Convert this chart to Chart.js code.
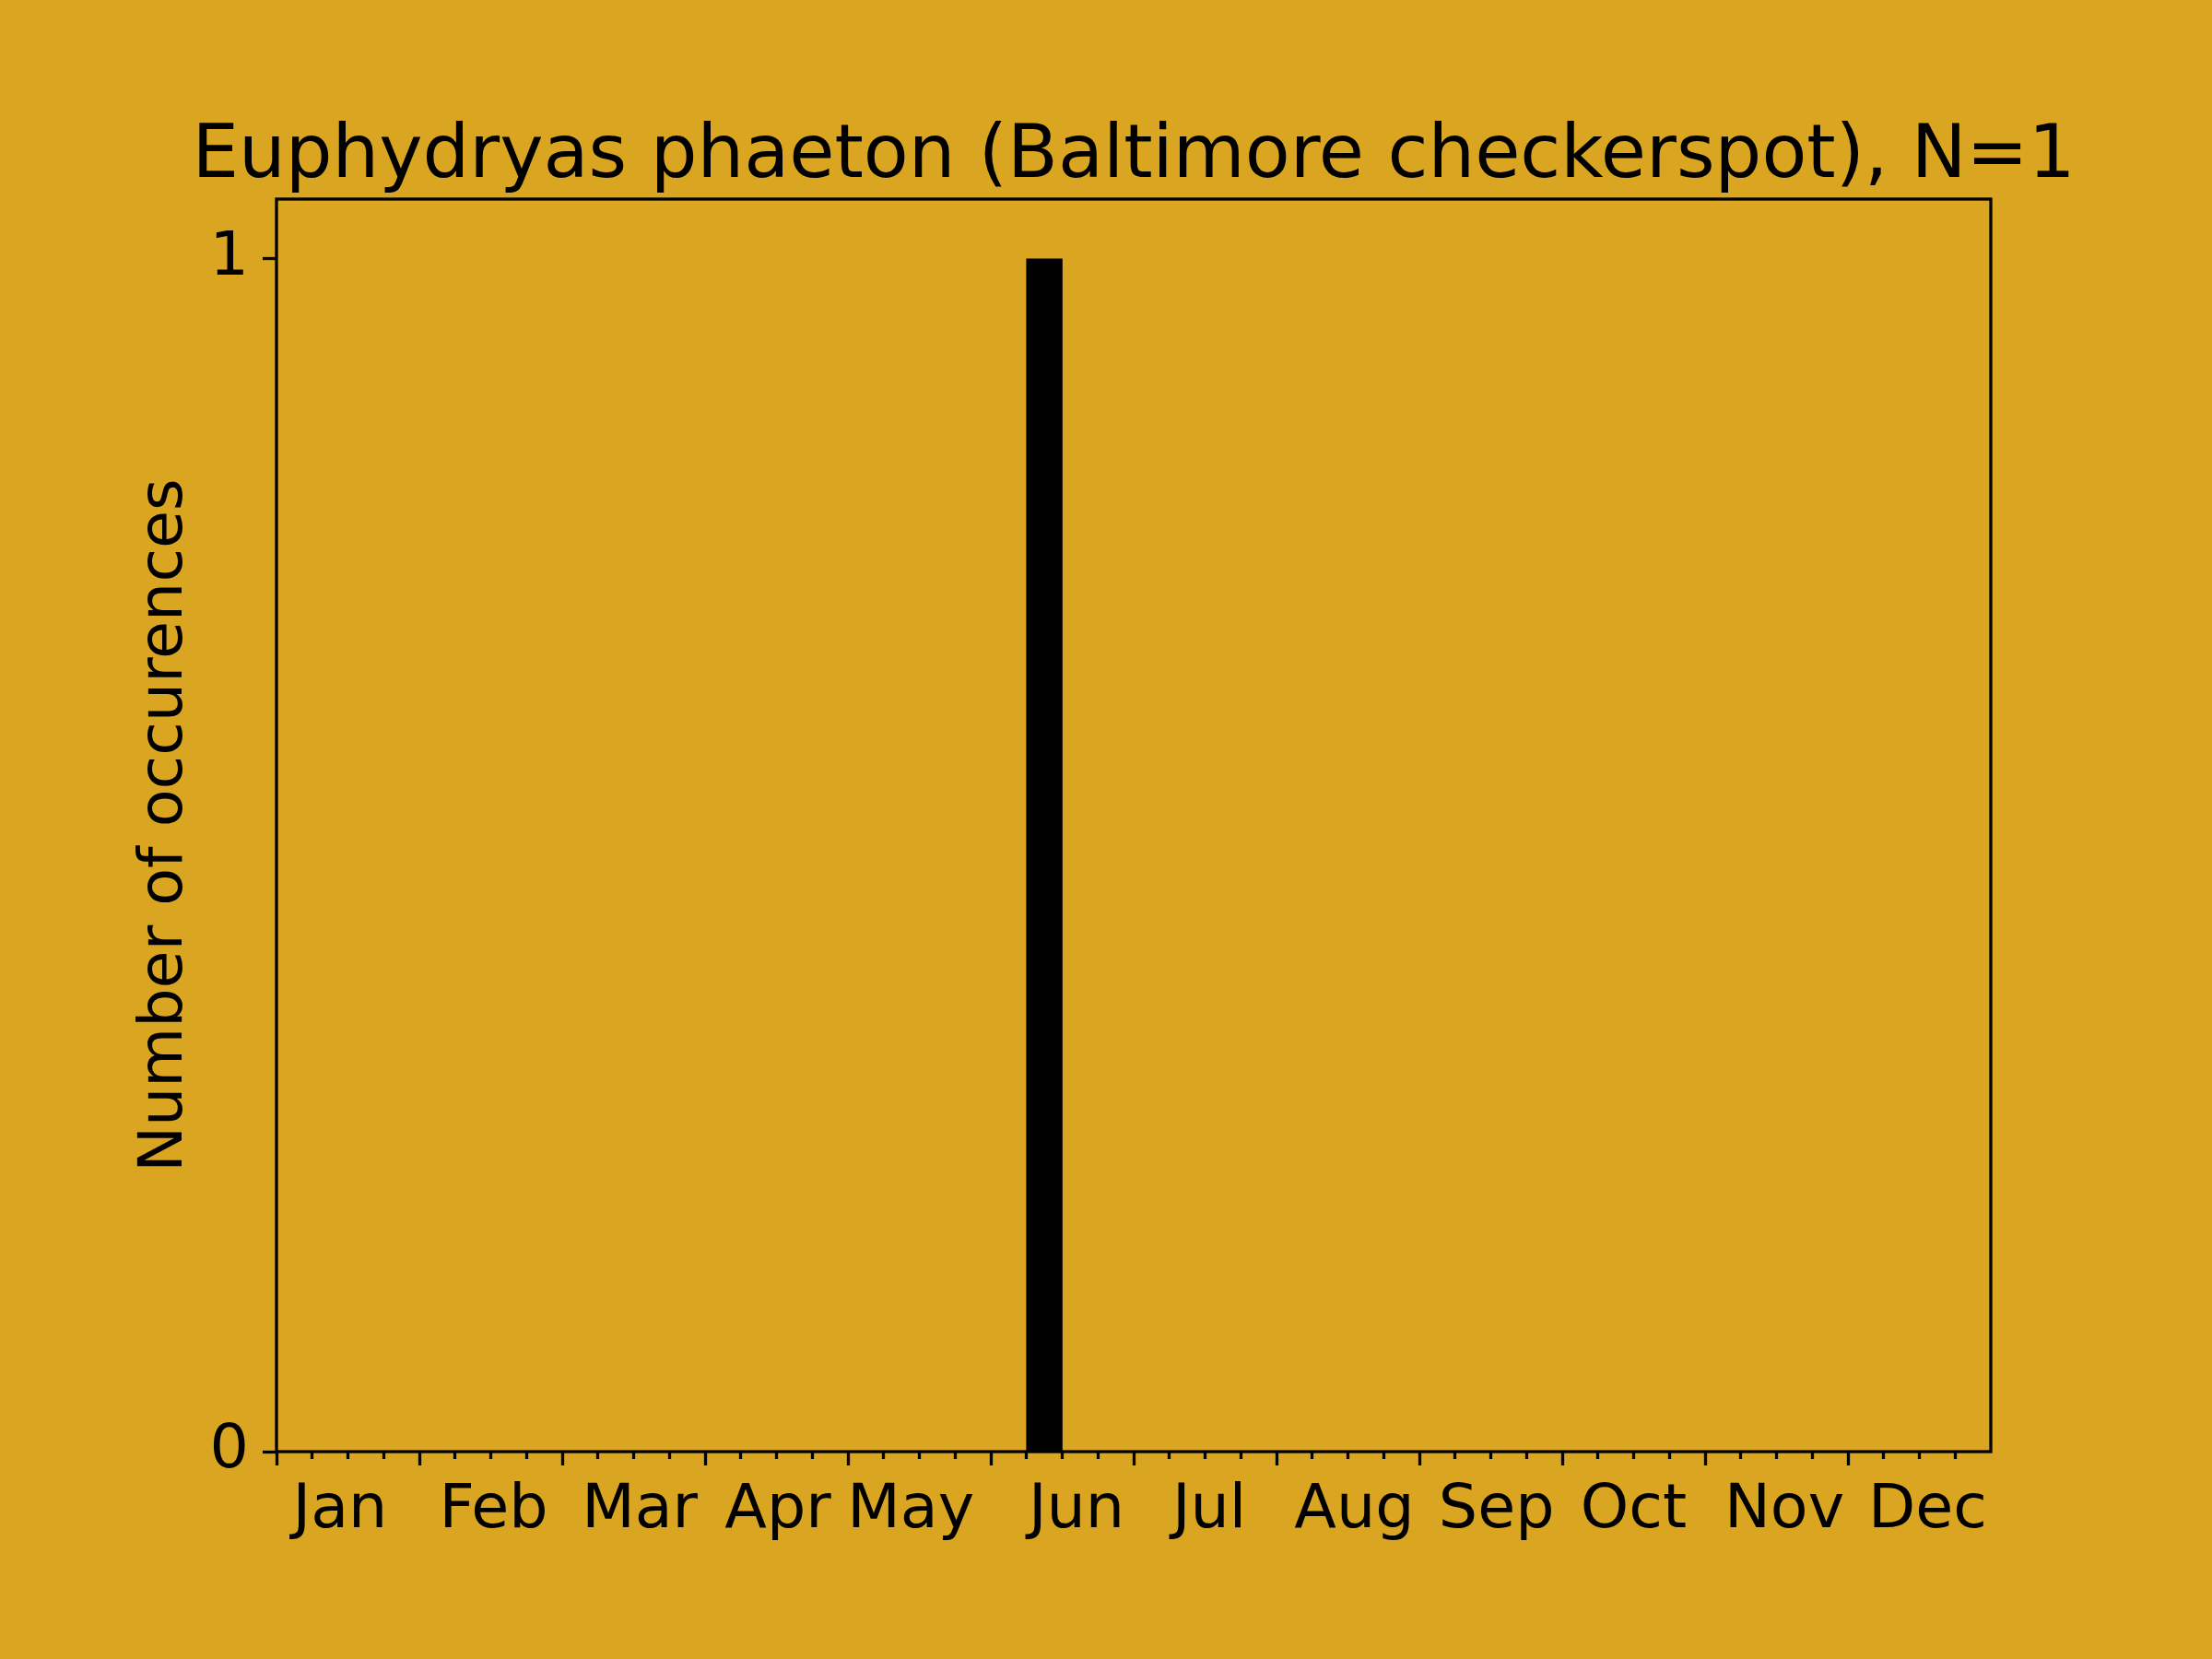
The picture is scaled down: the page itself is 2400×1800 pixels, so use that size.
<!DOCTYPE html>
<html>
<head>
<meta charset="utf-8">
<title>Euphydryas phaeton</title>
<script src="https://cdn.jsdelivr.net/npm/chart.js@4.4.0/dist/chart.umd.min.js"></script>
<style>
  html, body { margin: 0; padding: 0; background: #daa520; }
  canvas { display: block; }
</style>
</head>
<body>
<canvas id="chart" width="2400" height="1800"></canvas>
<script>
// 48 weekly bins, 4 per month
const weekCounts = [
    0, 0, 0, 0,   0, 0, 0, 0,   0, 0, 0, 0,   0, 0, 0, 0,   0, 0, 0, 0,
    0, 1, 0, 0,   0, 0, 0, 0,   0, 0, 0, 0,   0, 0, 0, 0,   0, 0, 0, 0,
    0, 0, 0, 0,   0, 0, 0, 0
];
const monthLabels = ["Jan", "Feb", "Mar", "Apr", "May", "Jun", "Jul", "Aug", "Sep", "Oct", "Nov", "Dec"];
// where the month names sit, in week units
const monthLabelPos = [1.78, 6.08, 10.17, 14.04, 17.76, 22.4, 26.12, 30.18, 34.16, 38.0, 42.22, 46.23];
const yTicks = [0, 1];
const yMax = 1.05;

const FONT = "'DejaVu Sans', sans-serif";
const LW = 3.3;
const TICK_FONT = 66.7;

Chart.defaults.color = "#000";
Chart.defaults.font.family = FONT;

// spines all round, drawn over the bars like matplotlib
const framePlugin = {
    id: "frame",
    afterDatasetsDraw(chart) {
        const a = chart.chartArea;
        const ctx = chart.ctx;
        ctx.save();
        ctx.strokeStyle = "#000";
        ctx.lineWidth = LW;
        ctx.strokeRect(a.left, a.top, a.right - a.left, a.bottom - a.top);
        ctx.restore();
    }
};

const barData = weekCounts.map((c, i) => ({ x: i + 0.5, y: c }));

new Chart(document.getElementById("chart"), {
    type: "bar",
    data: {
        datasets: [{
            data: barData,
            xAxisID: "x",
            yAxisID: "y",
            backgroundColor: "#000",
            borderWidth: 0,
            barPercentage: 1,
            categoryPercentage: 1
        }]
    },
    options: {
        responsive: false,
        animation: false,
        devicePixelRatio: 1,
        // left/right padding keep the title centred over the plot
        layout: { padding: { left: 60, top: 0, right: 0, bottom: 110 } },
        plugins: {
            legend: { display: false },
            tooltip: { enabled: false },
            title: {
                display: true,
                text: "Euphydryas phaeton (Baltimore checkerspot), N=1",
                color: "#000",
                font: { size: 80, weight: "normal", family: FONT, lineHeight: 1.0 },
                padding: { top: 131, bottom: 5 }
            }
        },
        scales: {
            x: {
                type: "linear",
                position: "bottom",
                min: 0,
                max: weekCounts.length,
                offset: false,
                weight: 0,
                border: { display: false },
                grid: {
                    offset: false,
                    drawOnChartArea: false,
                    drawTicks: true,
                    tickLength: 15,
                    tickWidth: LW,
                    tickColor: "#000",
                    // minor ticks are shorter: dash cuts them off
                    tickBorderDash: (ctx) => (ctx.tick && ctx.tick.value % 4 === 0) ? [] : [8, 200]
                },
                ticks: { display: false, stepSize: 1 },
                afterBuildTicks: (scale) => {
                    scale.ticks = weekCounts.map((_, i) => ({ value: i }));
                },
                afterFit: (scale) => { scale.height = 15; }
            },
            xLabels: {
                type: "linear",
                position: "bottom",
                min: 0,
                max: weekCounts.length,
                offset: false,
                weight: 1,
                border: { display: false },
                grid: { display: false, offset: false },
                ticks: {
                    autoSkip: false,
                    maxRotation: 0,
                    minRotation: 0,
                    padding: 2,
                    color: "#000",
                    font: { size: TICK_FONT, family: FONT },
                    callback: (v, i) => monthLabels[i]
                },
                afterBuildTicks: (scale) => {
                    scale.ticks = monthLabelPos.map(p => ({ value: p }));
                },
                afterFit: (scale) => { scale.height = 100; }
            },
            y: {
                type: "linear",
                position: "left",
                min: 0,
                max: yMax,
                border: { display: false },
                grid: {
                    drawOnChartArea: false,
                    tickLength: 15,
                    tickWidth: LW,
                    tickColor: "#000"
                },
                ticks: {
                    padding: 15,
                    color: "#000",
                    font: { size: TICK_FONT, family: FONT },
                    callback: (v) => String(v)
                },
                afterBuildTicks: (scale) => {
                    scale.ticks = yTicks.map(v => ({ value: v }));
                },
                title: {
                    display: true,
                    text: "Number of occurences",
                    color: "#000",
                    font: { size: 66.7, family: FONT },
                    padding: { top: 80, bottom: 0 }
                },
                afterFit: (scale) => { scale.width = 240; }
            },
            // empty strip on the right, only takes up space
            yRight: {
                type: "linear",
                position: "right",
                min: 0,
                max: 1,
                border: { display: false },
                grid: { display: false },
                ticks: { display: false },
                afterFit: (scale) => { scale.width = 240; }
            }
        }
    },
    plugins: [framePlugin]
});
</script>
</body>
</html>
